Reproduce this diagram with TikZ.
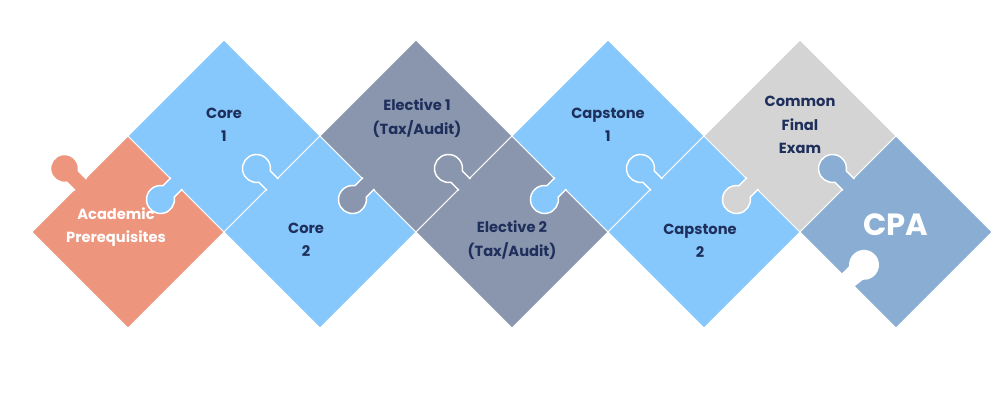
\documentclass[tikz,border=0pt]{standalone}
\usepackage{fontspec}
\setmainfont{Poppins}
\begin{document}
\begin{tikzpicture}[x=0.75pt,y=-0.75pt,
  piece/.style={draw=white,line width=0.6pt},
  lbl/.style={align=center,font=\bfseries\fontsize{11}{17.5}\selectfont,text=navy},
  knob/.pic={\filldraw[fill=#1,draw=white,line width=1.1pt] (-1,-8) -- (10.5,-8) arc[start angle=-145,end angle=145,radius=14] -- (-1,8);},
  hole/.pic={\fill[white] (-2,-9) -- (10.5,-9) arc[start angle=-140,end angle=140,radius=15] -- (-2,9) -- cycle;}]
\definecolor{orng}{HTML}{EE957D}
\definecolor{blu}{HTML}{86C8FC}
\definecolor{dgr}{HTML}{8A96AE}
\definecolor{lgr}{HTML}{D4D4D4}
\definecolor{cpa}{HTML}{8AAED3}
\definecolor{navy}{HTML}{1F2F5C}
\useasboundingbox (0,0) rectangle (1000,400);
\fill[white] (0,0) rectangle (1000,400);
\def\dia#1#2#3#4{\fill[#3,piece] (#1,#2-96) -- (#1+96,#2) -- (#1,#2+96) -- (#1-96,#2) -- cycle; \coordinate (#4) at (#1,#2);}
\dia{128}{232}{orng}{p1}
\dia{224}{136}{blu}{p2}
\dia{320}{232}{blu}{p3}
\dia{416}{136}{dgr}{p4}
\dia{512}{232}{dgr}{p5}
\dia{608}{136}{blu}{p6}
\dia{704}{232}{blu}{p7}
\dia{800}{136}{lgr}{p8}
\dia{896}{232}{cpa}{p9}
% knobs
\pic[rotate=135] at (80,184) {knob=orng};
\pic[rotate=225] at (176,184) {knob=blu};
\pic[rotate=135] at (272,184) {knob=blu};
\pic[rotate=225] at (368,184) {knob=dgr};
\pic[rotate=135] at (464,184) {knob=dgr};
\pic[rotate=225] at (560,184) {knob=blu};
\pic[rotate=135] at (656,184) {knob=blu};
\pic[rotate=225] at (752,184) {knob=lgr};
\pic[rotate=135] at (848,184) {knob=cpa};
\pic[rotate=45] at (848,280) {hole};
% labels
\node[lbl,text=white] (t1) at (116,227) {Academic\\Prerequisites};
\node[lbl] (t2) at (224,125) {Core\\1};
\node[lbl] (t3) at (306,240) {Core\\2};
\node[lbl] (t4) at (417,118) {Elective 1\\(Tax/Audit)};
\node[lbl] (t5) at (512,240) {Elective 2\\(Tax/Audit)};
\node[lbl] (t6) at (608,125) {Capstone\\1};
\node[lbl] (t7) at (700,241) {Capstone\\2};
\node[lbl] (t8) at (800,125) {Common\\Final\\Exam};
\node[text=white,font=\bfseries\fontsize{23}{28}\selectfont] (t9) at (896,225) {CPA};
\end{tikzpicture}
\end{document}
